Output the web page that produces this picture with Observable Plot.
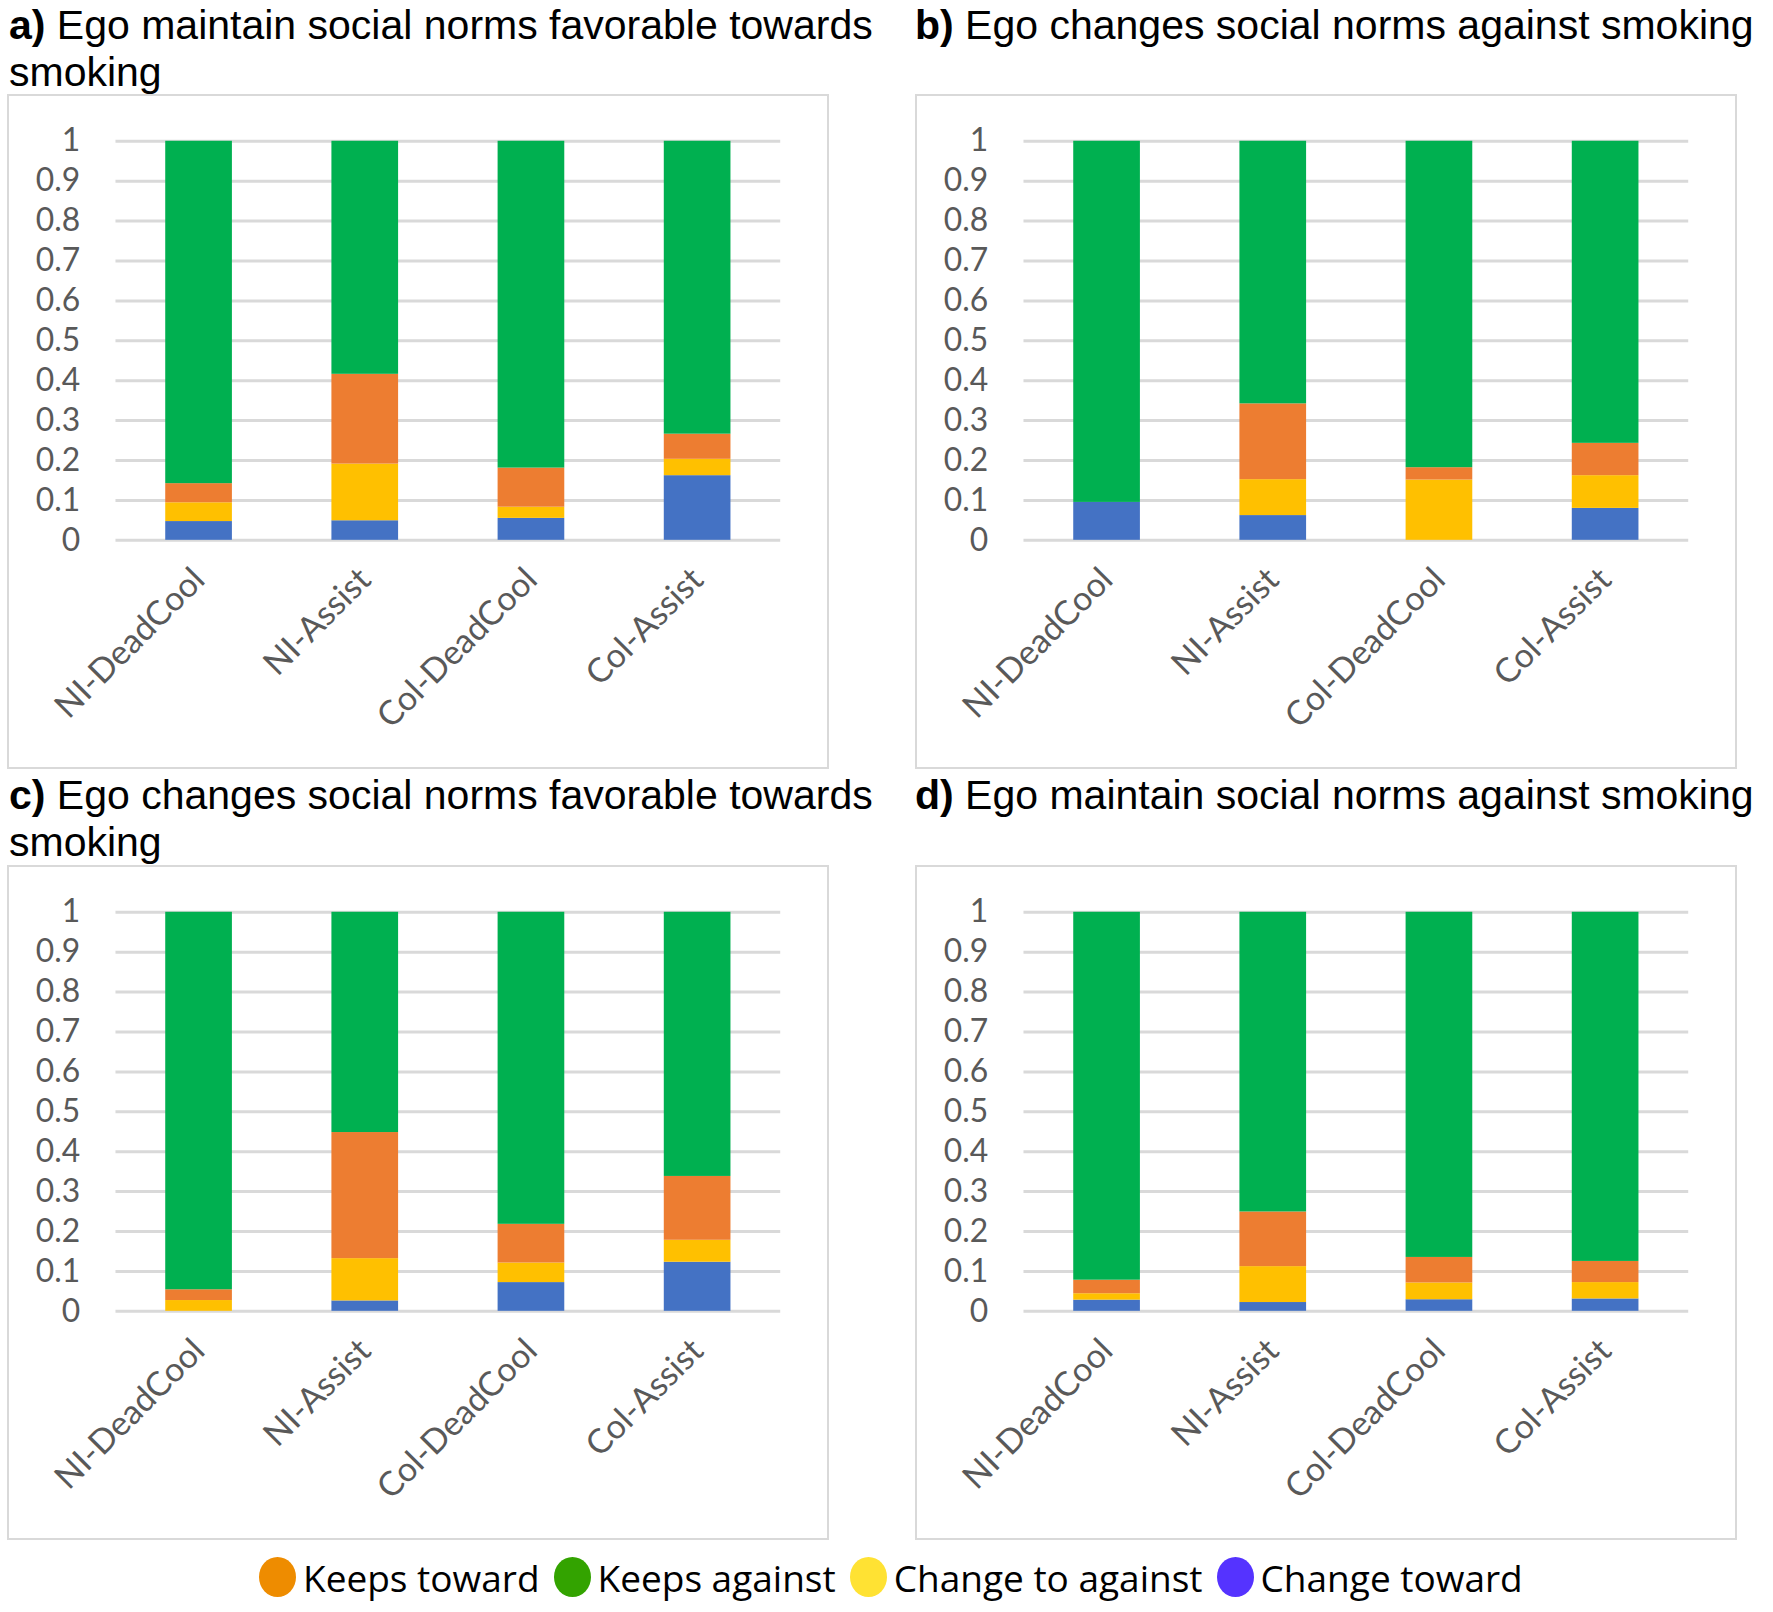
<!DOCTYPE html>
<html>
<head>
<meta charset="utf-8">
<script src="https://cdn.jsdelivr.net/npm/d3@7"></script>
<script src="https://cdn.jsdelivr.net/npm/@observablehq/plot@0.6"></script>
<style>
  html, body { margin: 0; padding: 0; background: #fff; }
  body { width: 1773px; height: 1612px; position: relative; overflow: hidden; }
  .title { position: absolute; font-family: "Liberation Sans", Arial, sans-serif; font-size: 41px; line-height: 47px; color: #000; white-space: nowrap; }
  .title b { font-weight: bold; }
  .box { position: absolute; width: 822px; height: 675px; border: 2px solid #d9d9d9; box-sizing: border-box; }
  .box svg { position: absolute; left: -2px; top: -2px; }
  .legend { position: absolute; left: 259px; top: 1554px; height: 46px; display: flex; align-items: center; font-family: "Open Sans", sans-serif; font-size: 37px; color: #000; white-space: nowrap; }
  .legend .item { display: flex; align-items: center; margin-right: 14px; }
  .legend .dot { width: 37px; height: 40px; border-radius: 50%; margin-right: 7px; }
</style>
</head>
<body>
<div class="title" style="left:9px; top:2px;"><b>a)</b> Ego maintain social norms favorable towards<br>smoking</div>
<div class="title" style="left:915px; top:2px;"><b>b)</b> Ego changes social norms against smoking</div>
<div class="title" style="left:9px; top:772px;"><b>c)</b> Ego changes social norms favorable towards<br>smoking</div>
<div class="title" style="left:915px; top:772px;"><b>d)</b> Ego maintain social norms against smoking</div>
<div class="box" id="pa" style="left:7px; top:94px;"></div>
<div class="box" id="pb" style="left:915px; top:94px;"></div>
<div class="box" id="pc" style="left:7px; top:865px;"></div>
<div class="box" id="pd" style="left:915px; top:865px;"></div>
<div class="legend" id="legend"></div>
<script>
// ---- data ----
const categories = ["NI-DeadCool", "NI-Assist", "Col-DeadCool", "Col-Assist"];
const seriesNames = ["Change toward", "Change to against", "Keeps toward", "Keeps against"];
const seriesColors = ["#4472C4", "#FFC000", "#ED7D31", "#00B050"];
const legendNames = ["Keeps toward", "Keeps against", "Change to against", "Change toward"];
const legendColors = ["#EE8C00", "#33A300", "#FFE233", "#5533FF"];
const yTicks = [0, 0.1, 0.2, 0.3, 0.4, 0.5, 0.6, 0.7, 0.8, 0.9, 1];

// panel a
const a_changeToward    = [0.047, 0.049, 0.055, 0.162];
const a_changeToAgainst = [0.047, 0.142, 0.028, 0.041];
const a_keepsToward     = [0.048, 0.225, 0.098, 0.063];
const a_keepsAgainst    = [0.858, 0.584, 0.819, 0.734];
// panel b
const b_changeToward    = [0.095, 0.062, 0.000, 0.080];
const b_changeToAgainst = [0.000, 0.090, 0.151, 0.082];
const b_keepsToward     = [0.000, 0.190, 0.031, 0.081];
const b_keepsAgainst    = [0.905, 0.658, 0.818, 0.757];
// panel c
const c_changeToward    = [0.000, 0.026, 0.072, 0.123];
const c_changeToAgainst = [0.027, 0.106, 0.049, 0.055];
const c_keepsToward     = [0.027, 0.316, 0.097, 0.160];
const c_keepsAgainst    = [0.946, 0.552, 0.782, 0.662];
// panel d
const d_changeToward    = [0.028, 0.022, 0.029, 0.031];
const d_changeToAgainst = [0.016, 0.090, 0.042, 0.041];
const d_keepsToward     = [0.034, 0.137, 0.064, 0.053];
const d_keepsAgainst    = [0.922, 0.751, 0.865, 0.875];

function rows(seriesArrays) {
  const out = [];
  seriesArrays.forEach((arr, si) => {
    arr.forEach((v, ci) => out.push({cat: categories[ci], series: seriesNames[si], value: v}));
  });
  return out;
}

function panel(id, seriesArrays) {
  const data = rows(seriesArrays);
  const chart = Plot.plot({
    width: 822,
    height: 675,
    marginLeft: 109,
    marginRight: 45,
    marginTop: 47,
    marginBottom: 227,
    style: {fontFamily: "Lato, 'Open Sans', sans-serif", background: "transparent"},
    x: {domain: categories, paddingInner: 0.6, paddingOuter: 0.3},
    y: {domain: [0, 1]},
    color: {domain: seriesNames, range: seriesColors},
    marks: [
      Plot.ruleY(yTicks, {stroke: "#d9d9d9", strokeWidth: 3}),
      Plot.barY(data, {x: "cat", y: "value", fill: "series", order: seriesNames}),
      Plot.axisY({ticks: yTicks, tickFormat: d => String(d), tickSize: 0, tickPadding: 36, fontSize: 32, fill: "#595959", label: null}),
      Plot.axisX({tickRotate: -45, tickSize: 0, tickPadding: 34, fontSize: 34, fill: "#595959", label: null})
    ]
  });
  document.getElementById(id).appendChild(chart);
}

panel("pa", [a_changeToward, a_changeToAgainst, a_keepsToward, a_keepsAgainst]);
panel("pb", [b_changeToward, b_changeToAgainst, b_keepsToward, b_keepsAgainst]);
panel("pc", [c_changeToward, c_changeToAgainst, c_keepsToward, c_keepsAgainst]);
panel("pd", [d_changeToward, d_changeToAgainst, d_keepsToward, d_keepsAgainst]);

const legend = document.getElementById("legend");
legendNames.forEach((n, i) => {
  const item = document.createElement("div");
  item.className = "item";
  const dot = document.createElement("span");
  dot.className = "dot";
  dot.style.background = legendColors[i];
  const t = document.createElement("span");
  t.textContent = n;
  item.appendChild(dot);
  item.appendChild(t);
  legend.appendChild(item);
});
</script>
</body>
</html>
